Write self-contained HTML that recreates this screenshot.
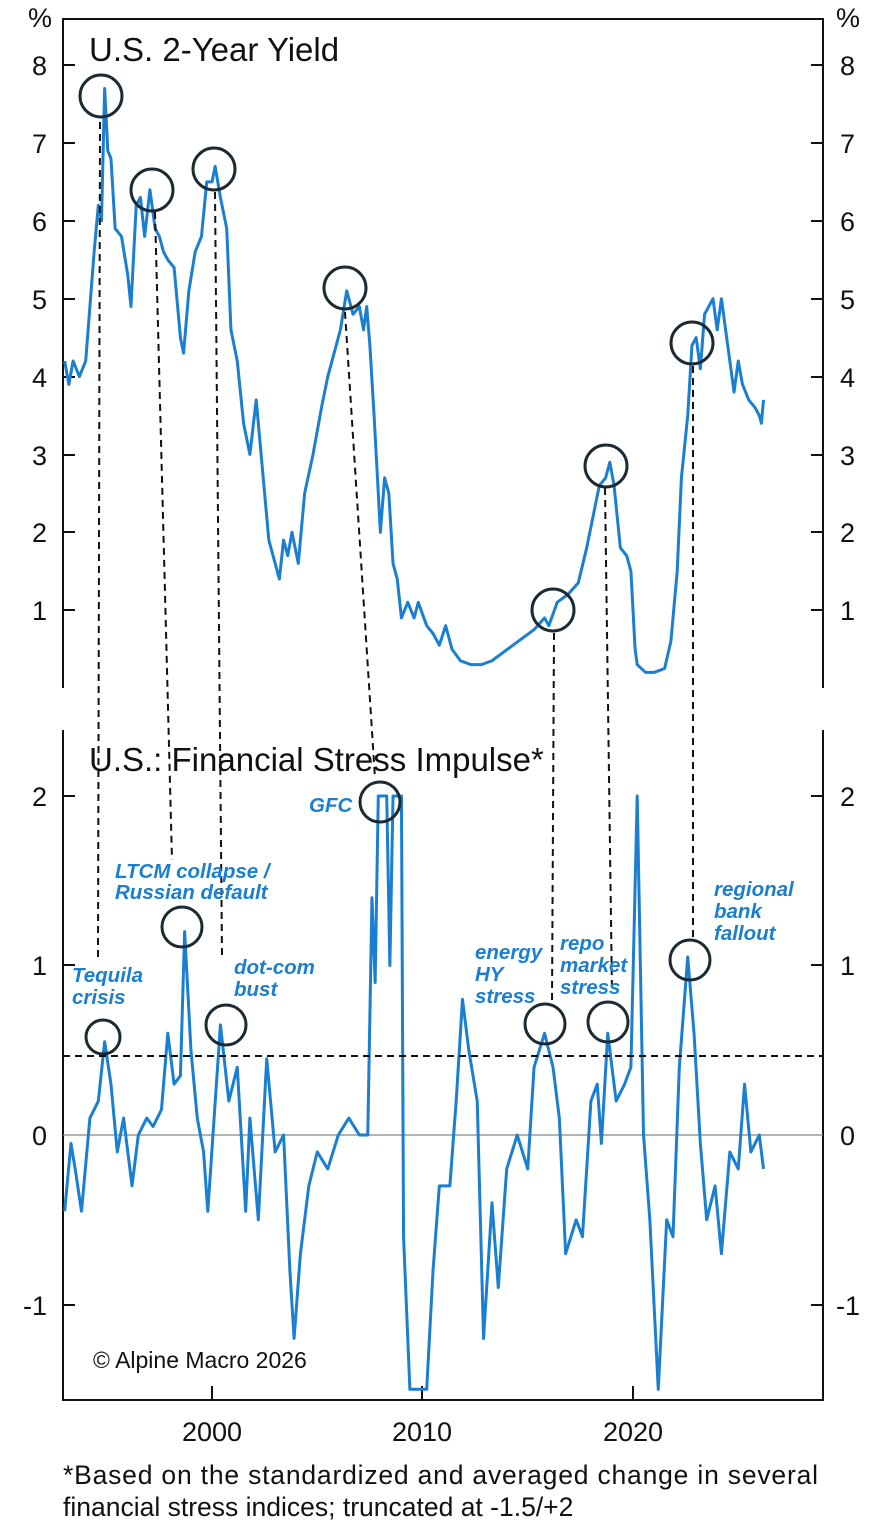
<!DOCTYPE html>
<html><head><style>
html,body{margin:0;padding:0;background:#fff;}
svg{display:block;font-family:"Liberation Sans",Arial,sans-serif;}
.t{font-size:27px;fill:#111;}
.l{font-family:"Liberation Sans",sans-serif;font-weight:bold;font-style:italic;font-size:20.5px;fill:#1a7fd0;}
</style></head><body>
<svg width="883" height="1536" viewBox="0 0 883 1536">
<g stroke="#111" stroke-width="2" fill="none">
<path d="M63,688V19H823V688"/>
<path d="M63,730V1400H823V730"/>
<path d="M63,65h12M63,143h12M63,221h12M63,299h12M63,377h12M63,455h12M63,532h12M63,610h12"/>
<path d="M823,65h-12M823,143h-12M823,221h-12M823,299h-12M823,377h-12M823,455h-12M823,532h-12M823,610h-12"/>
<path d="M63,796h12M63,965h12M63,1305h12M823,796h-12M823,965h-12M823,1305h-12"/>
<path d="M212,1400v-14M422,1400v-14M633,1400v-14"/>
</g>
<line x1="63" y1="1135" x2="823" y2="1135" stroke="#888" stroke-width="1.2"/>
<g class="t" text-anchor="end">
<text x="52" y="27">%</text>
<text x="47" y="75">8</text><text x="47" y="153">7</text><text x="47" y="231">6</text><text x="47" y="309">5</text><text x="47" y="387">4</text><text x="47" y="465">3</text><text x="47" y="542">2</text><text x="47" y="620">1</text>
<text x="47" y="806">2</text><text x="47" y="975">1</text><text x="47" y="1145">0</text><text x="47" y="1315">-1</text>
</g>
<g class="t">
<text x="836" y="27">%</text>
<text x="840" y="75">8</text><text x="840" y="153">7</text><text x="840" y="231">6</text><text x="840" y="309">5</text><text x="840" y="387">4</text><text x="840" y="465">3</text><text x="840" y="542">2</text><text x="840" y="620">1</text>
<text x="840" y="806">2</text><text x="840" y="975">1</text><text x="840" y="1145">0</text><text x="836" y="1315">-1</text>
<text x="212" y="1441" text-anchor="middle">2000</text><text x="422" y="1441" text-anchor="middle">2010</text><text x="633" y="1441" text-anchor="middle">2020</text>
</g>
<g font-size="26.5" fill="#111">
<text x="63" y="1484" textLength="755">*Based on the standardized and averaged change in several</text>
<text x="63" y="1516">financial stress indices; truncated at -1.5/+2</text>
</g>
<text x="89" y="61" font-size="33" fill="#111">U.S. 2-Year Yield</text>
<text x="89" y="771" font-size="33" fill="#111">U.S.: Financial Stress Impulse*</text>
<text x="93" y="1368" font-size="23" fill="#111">© Alpine Macro 2026</text>

<g transform="translate(212,688) scale(21.05,-77.86)">
<polyline fill="none" stroke="#1a7fd0" stroke-width="3" vector-effect="non-scaling-stroke" stroke-linejoin="round" points="-7,4.2 -6.8,3.9 -6.6,4.2 -6.3,4.0 -6,4.2 -5.6,5.6 -5.4,6.2 -5.25,6.0 -5.1,7.7 -4.95,6.9 -4.8,6.8 -4.6,5.9 -4.3,5.8 -4.0,5.3 -3.85,4.9 -3.6,6.2 -3.4,6.3 -3.2,5.8 -2.95,6.4 -2.7,5.9 -2.5,5.8 -2.3,5.6 -2.1,5.5 -1.8,5.4 -1.5,4.5 -1.35,4.3 -1.1,5.1 -0.8,5.6 -0.5,5.8 -0.25,6.5 0.0,6.5 0.15,6.7 0.4,6.3 0.7,5.9 0.9,4.6 1.2,4.2 1.5,3.4 1.8,3.0 2.1,3.7 2.3,3.1 2.5,2.5 2.7,1.9 2.9,1.7 3.2,1.4 3.4,1.9 3.6,1.7 3.8,2.0 4.1,1.6 4.4,2.5 4.8,3.0 5.2,3.6 5.5,4.0 5.8,4.3 6.1,4.6 6.4,5.1 6.7,4.8 7.0,4.9 7.2,4.6 7.35,4.9 7.5,4.4 7.7,3.5 7.9,2.5 8.0,2.0 8.2,2.7 8.4,2.5 8.6,1.6 8.8,1.4 9.0,0.9 9.3,1.1 9.6,0.9 9.8,1.1 10.2,0.8 10.5,0.7 10.8,0.55 11.1,0.8 11.4,0.5 11.8,0.35 12.3,0.3 12.8,0.3 13.3,0.35 13.8,0.45 14.3,0.55 14.8,0.65 15.3,0.75 15.8,0.9 16.0,0.8 16.4,1.1 16.9,1.2 17.4,1.35 17.8,1.8 18.1,2.2 18.4,2.6 18.7,2.7 18.9,2.9 19.1,2.6 19.4,1.8 19.7,1.7 19.9,1.5 20.1,0.5 20.2,0.3 20.6,0.2 21.0,0.2 21.5,0.25 21.8,0.6 22.1,1.5 22.3,2.7 22.6,3.5 22.8,4.4 23.0,4.5 23.2,4.1 23.4,4.8 23.6,4.9 23.8,5.0 24.0,4.6 24.2,5.0 24.5,4.4 24.8,3.8 25.0,4.2 25.2,3.9 25.5,3.7 25.8,3.6 26.0,3.5 26.1,3.4 26.2,3.7"/>
</g>
<g transform="translate(212,1135) scale(21.05,-169.5)">
<polyline fill="none" stroke="#1a7fd0" stroke-width="3" vector-effect="non-scaling-stroke" stroke-linejoin="round" points="-7,-0.45 -6.7,-0.05 -6.5,-0.2 -6.2,-0.45 -5.8,0.1 -5.4,0.2 -5.1,0.55 -4.8,0.3 -4.5,-0.1 -4.2,0.1 -3.8,-0.3 -3.5,0.0 -3.1,0.1 -2.8,0.05 -2.4,0.15 -2.1,0.6 -1.8,0.3 -1.5,0.35 -1.3,1.2 -1.0,0.5 -0.7,0.1 -0.4,-0.1 -0.2,-0.45 0.1,0.1 0.4,0.65 0.8,0.2 1.2,0.4 1.6,-0.45 1.8,0.1 2.2,-0.5 2.6,0.45 3.0,-0.1 3.4,0.0 3.7,-0.8 3.9,-1.2 4.2,-0.7 4.6,-0.3 5.0,-0.1 5.5,-0.2 6.0,0.0 6.5,0.1 7.0,0.0 7.4,0.0 7.6,1.4 7.75,0.9 7.9,2.0 8.3,2.0 8.45,1.0 8.6,2.0 9.0,2.0 9.1,-0.6 9.4,-1.5 10.2,-1.5 10.5,-0.8 10.8,-0.3 11.3,-0.3 11.6,0.2 11.9,0.8 12.2,0.5 12.6,0.2 12.9,-1.2 13.3,-0.4 13.6,-0.9 14.0,-0.2 14.5,0.0 15.0,-0.2 15.3,0.4 15.8,0.6 16.2,0.4 16.5,0.1 16.8,-0.7 17.3,-0.5 17.6,-0.6 18.0,0.2 18.3,0.3 18.5,-0.05 18.8,0.6 19.2,0.2 19.6,0.3 19.9,0.4 20.2,2.0 20.5,0.0 20.8,-0.5 21.2,-1.5 21.6,-0.5 21.9,-0.6 22.2,0.4 22.6,1.05 22.9,0.6 23.2,-0.05 23.5,-0.5 23.9,-0.3 24.2,-0.7 24.6,-0.1 25.0,-0.2 25.3,0.3 25.6,-0.1 26.0,0.0 26.2,-0.2"/>
</g>

<g stroke="#111" stroke-width="2" stroke-dasharray="7,5" fill="none">
<path d="M63,1056H823"/>
<path d="M100,122L98,960"/>
<path d="M155,212L172,860"/>
<path d="M215,192L222,955"/>
<path d="M345,312L375,778"/>
<path d="M554,633L552,1002"/>
<path d="M605,488L612,992"/>
<path d="M693,366L693,938"/>
</g>
<g stroke="#1b2a33" stroke-width="3" fill="none">
<circle cx="101" cy="96" r="21"/><circle cx="152" cy="190" r="21"/><circle cx="214" cy="169" r="21"/><circle cx="345" cy="288" r="21"/><circle cx="606" cy="466" r="21"/><circle cx="553" cy="610" r="21"/><circle cx="692" cy="343" r="21"/>
<circle cx="103" cy="1037" r="17"/><circle cx="182" cy="927" r="20"/><circle cx="226" cy="1025" r="20"/><circle cx="380" cy="802" r="20"/><circle cx="545" cy="1024" r="20"/><circle cx="608" cy="1022" r="20"/><circle cx="690" cy="960" r="20"/>
</g>
<g class="l">
<text x="72" y="982">Tequila</text><text x="72" y="1004">crisis</text>
<text x="115" y="878">LTCM collapse /</text><text x="115" y="899">Russian default</text>
<text x="234" y="974">dot-com</text><text x="234" y="996">bust</text>
<text x="309" y="812">GFC</text>
<text x="475" y="959">energy</text><text x="475" y="981">HY</text><text x="475" y="1003">stress</text>
<text x="560" y="950">repo</text><text x="560" y="972">market</text><text x="560" y="994">stress</text>
<text x="714" y="896">regional</text><text x="714" y="918">bank</text><text x="714" y="940">fallout</text>
</g>
</svg>
</body></html>
